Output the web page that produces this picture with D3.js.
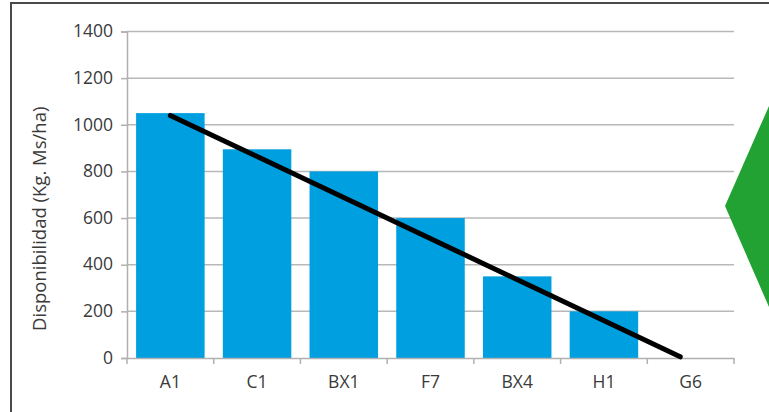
<!DOCTYPE html>
<html><head><meta charset="utf-8">
<script src="https://cdn.jsdelivr.net/npm/d3@7"></script>
<style>html,body{margin:0;padding:0;background:#fff;overflow:hidden}</style>
</head><body><svg id="c" width="769" height="412"></svg>
<script>
const categories = ["A1","C1","BX1","F7","BX4","H1","G6"];
const values = [1050, 895, 800, 600, 350, 200, 0];
const yTicks = [0,200,400,600,800,1000,1200,1400];
const trendIndex = [0, 5.88];
const trendValues = [1040, 5];
const yLabel = "Disponibilidad (Kg. Ms/ha)";

(function(){
const svg = d3.select("#c");
const font = "'Open Sans', sans-serif";
const fs = 17.5;
const mLeft = 127, mRight = 734, mTop = 31.5, mBottom = 358;

// frame
svg.append("rect").attr("x",11).attr("y",3).attr("width",900).attr("height",600)
  .attr("fill","none").attr("stroke","#4a4a4a").attr("stroke-width",2);

const x = d3.scaleBand().domain(categories).range([mLeft,mRight]).paddingInner(0.21).paddingOuter(0.105);
const y = d3.scaleLinear().domain([0,1400]).range([mBottom,mTop]);

// gridlines
svg.append("g").selectAll("line").data(yTicks.filter(d=>d>0)).join("line")
  .attr("x1",mLeft).attr("x2",mRight).attr("y1",d=>y(d)).attr("y2",d=>y(d))
  .attr("stroke","#b8b8b8").attr("stroke-width",1.5);

// y axis
const ya = svg.append("g").attr("transform",`translate(${mLeft},0)`)
  .call(d3.axisLeft(y).tickValues(yTicks).tickSize(6).tickPadding(8).tickFormat(d3.format("d")));
ya.select(".domain").attr("stroke","#b0b0b0").attr("stroke-width",1.5);
ya.selectAll(".tick line").attr("stroke","#b0b0b0").attr("stroke-width",1.5);
ya.selectAll("text").attr("font-family",font).attr("font-size",fs).attr("fill","#3a3a3a").attr("dy","0.3em");

// bars
svg.append("g").selectAll("rect").data(values).join("rect")
  .attr("x",(d,i)=>x(categories[i])).attr("width",x.bandwidth())
  .attr("y",d=>y(d)).attr("height",d=>mBottom-y(d)).attr("fill","#009fe0");

// x axis
const xa = svg.append("g").attr("transform",`translate(0,${mBottom})`)
  .call(d3.axisBottom(x).tickSize(0).tickPadding(18));
xa.select(".domain").attr("stroke","#b0b0b0").attr("stroke-width",1.5);
xa.selectAll("text").attr("font-family",font).attr("font-size",fs).attr("fill","#3a3a3a");
const step = x.step();
svg.append("g").selectAll("line").data(d3.range(categories.length+1)).join("line")
  .attr("x1",i=>mLeft+i*step).attr("x2",i=>mLeft+i*step)
  .attr("y1",mBottom).attr("y2",mBottom+6).attr("stroke","#b0b0b0").attr("stroke-width",1.5);

// trend line
const xi = d3.scaleLinear().domain([0,1]).range([x(categories[0])+x.bandwidth()/2, x(categories[1])+x.bandwidth()/2]);
svg.append("path").datum(trendIndex.map((t,i)=>[t,trendValues[i]]))
  .attr("d",d3.line().x(d=>xi(d[0])).y(d=>y(d[1])))
  .attr("stroke","#000").attr("stroke-width",5).attr("stroke-linecap","round").attr("fill","none");

// y label
svg.append("text").attr("transform",`translate(46,${(mTop+mBottom)/2+24}) rotate(-90)`)
  .attr("text-anchor","middle").attr("font-family",font).attr("font-size",fs+1).attr("fill","#3a3a3a")
  .text(yLabel);

// green arrow shape
svg.append("path").attr("d","M725,206 L769,106 L769,307 Z").attr("fill","#22a232");
})();
</script></body></html>
